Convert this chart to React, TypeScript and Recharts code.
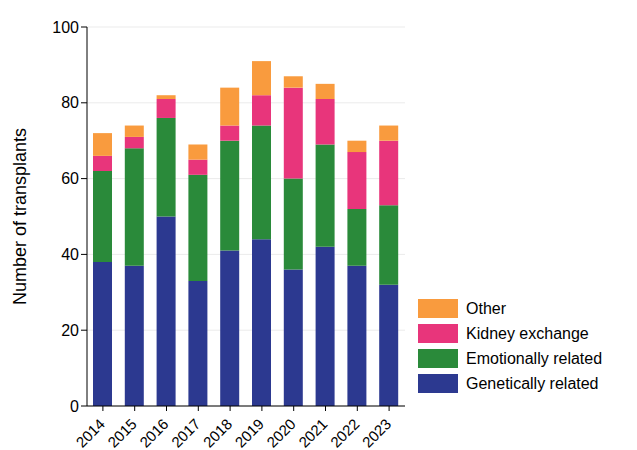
import { BarChart, Bar, XAxis, YAxis, CartesianGrid } from "recharts";

const years = ["2014", "2015", "2016", "2017", "2018", "2019", "2020", "2021", "2022", "2023"];
const genetic = [38, 37, 50, 33, 41, 44, 36, 42, 37, 32];
const emotional = [24, 31, 26, 28, 29, 30, 24, 27, 15, 21];
const kidney = [4, 3, 5, 4, 4, 8, 24, 12, 15, 17];
const other = [6, 3, 1, 4, 10, 9, 3, 4, 3, 4];
const yTicks = [0, 20, 40, 60, 80, 100];

const colors = { other: "#F99B3E", kidney: "#E8357B", emotional: "#2A8A3A", genetic: "#2C3990" };
const legendItems = [
  { label: "Other", color: colors.other },
  { label: "Kidney exchange", color: colors.kidney },
  { label: "Emotionally related", color: colors.emotional },
  { label: "Genetically related", color: colors.genetic },
];

const data = years.map((year, i) => ({
  year,
  genetic: genetic[i],
  emotional: emotional[i],
  kidney: kidney[i],
  other: other[i],
}));

const font = "'Liberation Sans', Arial, sans-serif";

const XTick = (props: any) => {
  const { x, y, payload } = props;
  const tx = x + 3;
  const ty = y + 12;
  return (
    <g>
      <text x={tx} y={ty} transform={`rotate(-45 ${tx} ${ty})`} textAnchor="end" fontSize={15} fill="#000" fontFamily={font}>
        {payload.value}
      </text>
    </g>
  );
};

export default function App() {
  return (
    <div style={{ position: "absolute", left: 0, top: 0, width: 637, height: 450, background: "#fff", fontFamily: font }}>
      <BarChart width={637} height={450} data={data} margin={{ top: 27, right: 232, left: 0, bottom: 0 }} style={{ overflow: "visible" }}>
        <CartesianGrid vertical={false} stroke="#ebebeb" />
        <XAxis dataKey="year" height={44} tick={<XTick />} tickLine={{ stroke: "#000" }} axisLine={{ stroke: "#000" }} interval={0} tickSize={5} />
        <YAxis
          width={87}
          domain={[0, 100]}
          ticks={yTicks}
          tick={{ fontSize: 16, fill: "#000", fontFamily: font }}
          tickLine={{ stroke: "#000" }}
          axisLine={{ stroke: "#000" }}
          label={{ value: "Number of transplants", angle: -90, position: "insideLeft", offset: 20, style: { fontSize: 18, fill: "#000", fontFamily: font, textAnchor: "middle" } }}
        />
        <Bar dataKey="genetic" stackId="a" fill={colors.genetic} barSize={19} isAnimationActive={false} />
        <Bar dataKey="emotional" stackId="a" fill={colors.emotional} barSize={19} isAnimationActive={false} />
        <Bar dataKey="kidney" stackId="a" fill={colors.kidney} barSize={19} isAnimationActive={false} />
        <Bar dataKey="other" stackId="a" fill={colors.other} barSize={19} isAnimationActive={false} />
      </BarChart>
      <div style={{ position: "absolute", left: 418, top: 296 }}>
        {legendItems.map((it) => (
          <div key={it.label} style={{ display: "flex", alignItems: "center", height: 25, fontSize: 16 }}>
            <span style={{ width: 40, height: 19, background: it.color, marginRight: 8, display: "inline-block" }} />
            {it.label}
          </div>
        ))}
      </div>
    </div>
  );
}
